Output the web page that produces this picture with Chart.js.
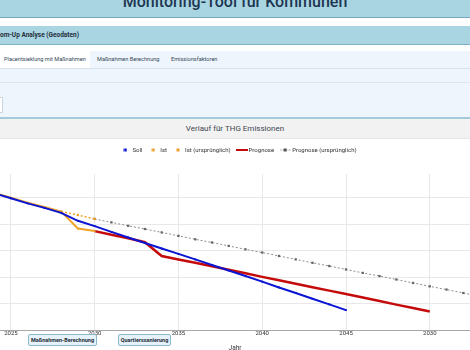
<!DOCTYPE html>
<html lang="de">
<head>
  <meta charset="UTF-8" />
  <title>Monitoring-Tool für Kommunen</title>
  <style>
    body {
      margin: 0;
      width: 470px;
      height: 350px;
      overflow: hidden;
      position: relative;
      background: #fff;
      font-family: Roboto, Arial, sans-serif;
    }

    .top-bar {
      position: absolute;
      left: 0; top: 0;
      width: 470px; height: 17px;
      background: #a9d4e2;
      border-bottom: 1px solid #74a8c0;
      overflow: hidden;
    }
    .top-bar h1 {
      position: absolute;
      left: 0; right: 0; top: -6px;
      margin: 0;
      text-align: center;
      font-size: 16px;
      line-height: 16px;
      font-weight: 500;
      color: #1d3650;
    }

    .section-bar {
      position: absolute;
      left: 0; top: 26px;
      width: 470px; height: 18px;
      background: #a9d4e2;
      border-bottom: 1px solid #7fb0c6;
      font-size: 6.5px;
      font-weight: bold;
      line-height: 18px;
      color: #1f2f3a;
    }

    .tab-area {
      position: absolute;
      left: 0; top: 51px;
      width: 470px; height: 66px;
      background: #eef5fc;
      border-bottom: 2px solid #a3c9da;
    }
    .tabs {
      height: 17px;
      border-bottom: 1px solid #d6e2ec;
      position: relative;
    }
    .tab {
      position: absolute;
      top: 0; height: 17px;
      font-size: 5.6px;
      line-height: 17px;
      color: #34485a;
    }
    .tab.active {
      background: #fff;
      padding: 0 4px;
    }
    .sub-line {
      position: absolute;
      left: 0; top: 31px;
      width: 470px;
      border-top: 1px solid #dde6ee;
    }
    .cut-box {
      position: absolute;
      left: -4px; top: 46px;
      width: 5px; height: 14px;
      background: #fff;
      border: 1px solid #c9d6e0;
    }

    .card-header {
      position: absolute;
      left: 0; top: 119px;
      width: 470px; height: 19px;
      background: #f2f2f2;
      border-bottom: 1px solid #e6e6e6;
      text-align: center;
      font-size: 8px;
      line-height: 19px;
      color: #3d4650;
    }

    .chart-box {
      position: absolute;
      left: 0; top: 138px;
      width: 470px; height: 216px;
    }

    .chart-btn {
      position: absolute;
      top: 334px; height: 10px;
      background: #e6f2f9;
      border: 1px solid #8db8cc;
      border-radius: 2px;
      font-size: 5.5px;
      font-weight: bold;
      line-height: 10px;
      text-align: center;
      color: #1e2c38;
    }
  </style>
</head>
<body>
  <div class="top-bar"><h1>Monitoring-Tool für Kommunen</h1></div>
  <div class="section-bar">om-Up Analyse (Geodaten)</div>

  <div class="tab-area">
    <div class="tabs">
      <div class="tab active" style="left:0; width:82px;">Placentsieklung mit Maßnahmen</div>
      <div class="tab" style="left:97px;">Maßnahmen Berechnung</div>
      <div class="tab" style="left:171px;">Emissionsfaktoren</div>
    </div>
    <div class="sub-line"></div>
    <div class="cut-box"></div>
  </div>

  <div class="card-header">Verlauf für THG Emissionen</div>

  <div class="chart-box"><canvas id="thg-chart"></canvas></div>

  <div class="chart-btn" style="left:28px; width:67px;">Maßnahmen-Berechnung</div>
  <div class="chart-btn" style="left:118px; width:51px;">Quartierssanierung</div>

  <script src="https://cdn.jsdelivr.net/npm/chart.js"></script>
  <script>
    // years on the x axis (linear scale)
    const years = [2024, 2025, 2026, 2027, 2028, 2029, 2030, 2031, 2032, 2033,
                   2034, 2035, 2036, 2037, 2038, 2039, 2040, 2041, 2042, 2043,
                   2044, 2045, 2046, 2047, 2048, 2049, 2050, 2051, 2052, 2053];

    const tickYears = [2025, 2030, 2035, 2040, 2045, 2050];
    const tickLabels = ['2025', '2030', '2035', '2040', '2045', '2030'];
    const gridValues = [0, 10, 20, 30, 40, 50];

    const soll = [51.7, 49.8, 47.9, 46.2, 44.3, 41.3, 39.3, 37.1, 35.0, 32.9,
                  30.8, 28.8, 26.7, 24.6, 22.5, 20.4, 18.3, 16.1, 14.0, 11.8,
                  9.7, 7.5, null, null, null, null, null, null, null, null];

    const ist = [51.9, 50.0, 48.1, 46.5, 44.8, 38.4, 37.4, null, null, null,
                 null, null, null, null, null, null, null, null, null, null,
                 null, null, null, null, null, null, null, null, null, null];

    const istOrig = [null, null, null, null, 44.8, 43.5, 42.0, null, null, null,
                     null, null, null, null, null, null, null, null, null, null,
                     null, null, null, null, null, null, null, null, null, null];

    const prognose = [null, null, null, null, null, null, 37.4, 36.0, 34.7, 33.2,
                      28.0, 26.7, 25.4, 24.1, 22.8, 21.5, 20.1, 18.8, 17.5, 16.2,
                      14.9, 13.6, 12.3, 11.0, 9.6, 8.3, 7.0, null, null, null];

    const prognoseOrig = [null, null, null, null, null, null, 42.0, 40.7, 39.4, 38.2,
                          36.9, 35.6, 34.3, 33.1, 31.8, 30.5, 29.3, 28.0, 26.7, 25.4,
                          24.2, 22.9, 21.6, 20.4, 19.1, 17.8, 16.5, 15.3, 14.0, 12.7];

    const BLUE = '#0a14d2';
    const ORANGE = '#eea22a';
    const RED = '#c40a0a';
    const GREY = '#8c8c8c';

    // small legend symbols
    function dotIcon(color) {
      const c = document.createElement('canvas');
      c.width = 4; c.height = 4;
      const g = c.getContext('2d');
      g.fillStyle = color;
      g.fillRect(0.5, 0.5, 3, 3);
      return c;
    }
    function lineIcon(color) {
      const c = document.createElement('canvas');
      c.width = 12; c.height = 4;
      const g = c.getContext('2d');
      g.strokeStyle = color;
      g.lineWidth = 2;
      g.beginPath(); g.moveTo(0, 2); g.lineTo(12, 2); g.stroke();
      return c;
    }
    function dashDotIcon(color, dot) {
      const c = document.createElement('canvas');
      c.width = 11; c.height = 4;
      const g = c.getContext('2d');
      g.strokeStyle = color;
      g.lineWidth = 1;
      g.setLineDash([1.5, 1.5]);
      g.beginPath(); g.moveTo(0, 2); g.lineTo(11, 2); g.stroke();
      g.fillStyle = dot;
      g.fillRect(4, 0.5, 3, 3);
      return c;
    }
    const legendIcons = [dotIcon(BLUE), dotIcon(ORANGE), dotIcon(ORANGE), lineIcon(RED), dashDotIcon(GREY, '#555')];

    // extra room between legend and plot, legend nudged a little right
    const legendGap = {
      id: 'legendGap',
      beforeInit(chart) {
        const fit = chart.legend.fit;
        chart.legend.fit = function () {
          fit.bind(chart.legend)();
          this.height += 11;
        };
      },
      afterLayout(chart) {
        chart.legend.left += 4;
        chart.legend.right += 4;
      }
    };

    new Chart(document.getElementById('thg-chart'), {
      type: 'line',
      data: {
        labels: years,
        datasets: [
          {
            label: 'Soll',
            data: soll,
            borderColor: BLUE,
            backgroundColor: BLUE,
            borderWidth: 2,
            pointStyle: 'rect',
            pointRadius: 1.3,
            pointBorderWidth: 0
          },
          {
            label: 'Ist',
            data: ist,
            borderColor: ORANGE,
            backgroundColor: ORANGE,
            borderWidth: 2,
            pointStyle: 'rect',
            pointRadius: 1.3,
            pointBorderWidth: 0
          },
          {
            label: 'Ist (ursprünglich)',
            data: istOrig,
            borderColor: ORANGE,
            backgroundColor: ORANGE,
            borderWidth: 1.5,
            borderDash: [2, 2],
            pointStyle: 'rect',
            pointRadius: 1.6,
            pointBorderWidth: 0
          },
          {
            label: 'Prognose',
            data: prognose,
            borderColor: RED,
            backgroundColor: RED,
            borderWidth: 2.5,
            pointRadius: 0
          },
          {
            label: 'Prognose (ursprünglich)',
            data: prognoseOrig,
            borderColor: GREY,
            backgroundColor: '#666',
            borderWidth: 1,
            borderDash: [2, 2],
            pointStyle: 'rect',
            pointRadius: 1.6,
            pointBorderWidth: 0
          }
        ]
      },
      options: {
        responsive: true,
        maintainAspectRatio: false,
        animation: false,
        spanGaps: false,
        layout: {
          autoPadding: false,
          padding: { top: 2, left: 0, right: 0, bottom: 0 }
        },
        plugins: {
          legend: {
            position: 'top',
            labels: {
              usePointStyle: true,
              pointStyleWidth: 8,
              boxHeight: 6,
              padding: 7,
              color: '#333',
              font: { family: 'Roboto', size: 6 },
              generateLabels: chart => chart.data.datasets.map((ds, i) => ({
                text: ds.label,
                pointStyle: legendIcons[i],
                fillStyle: ds.borderColor,
                strokeStyle: ds.borderColor,
                lineWidth: 0,
                fontColor: '#333',
                hidden: !chart.isDatasetVisible(i),
                datasetIndex: i
              }))
            }
          },
          tooltip: { enabled: false }
        },
        scales: {
          x: {
            type: 'linear',
            min: 2024.35,
            max: 2052.4,
            afterBuildTicks: axis => {
              axis.ticks = tickYears.map(v => ({ value: v }));
            },
            afterFit: axis => {
              axis.paddingLeft = 0;
              axis.paddingRight = 0;
            },
            ticks: {
              padding: 0,
              color: '#333',
              font: { family: 'Roboto', size: 6 },
              maxRotation: 0,
              callback: (value, index) => tickLabels[index]
            },
            grid: {
              color: '#e8e8e8',
              drawTicks: false
            },
            border: { color: '#a8a8a8' },
            title: {
              display: true,
              text: 'Jahr',
              color: '#333',
              font: { family: 'Roboto', size: 6.5 },
              padding: { top: 7, bottom: 2 }
            }
          },
          y: {
            min: 0,
            max: 59,
            afterBuildTicks: axis => {
              axis.ticks = gridValues.map(v => ({ value: v }));
            },
            afterFit: axis => {
              axis.width = 0;
            },
            ticks: { display: false },
            grid: {
              color: '#e8e8e8',
              drawTicks: false
            },
            border: { display: false }
          }
        }
      },
      plugins: [legendGap]
    });
  </script>
</body>
</html>
